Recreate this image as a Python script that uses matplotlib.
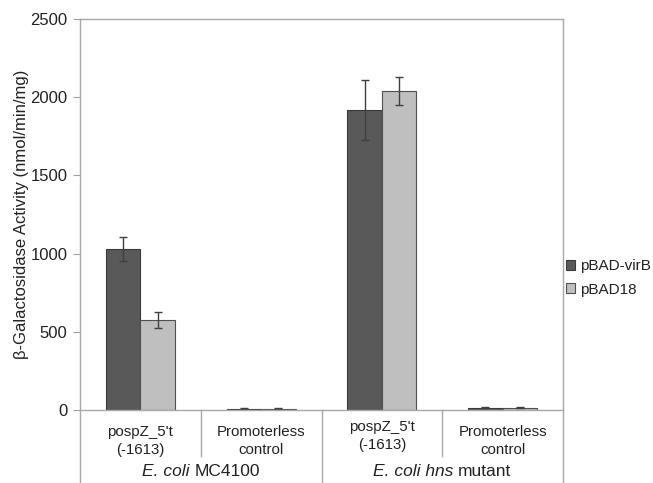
import matplotlib
matplotlib.use("Agg")
import matplotlib.pyplot as plt
import numpy as np

plt.rcParams['font.family'] = ['Liberation Sans', 'DejaVu Sans']

categories = ["pospZ_5't\n(-1613)", "Promoterless\ncontrol", "pospZ_5't\n(-1613)", "Promoterless\ncontrol"]
groups = [("E. coli ", "MC4100"), ("E. coli hns ", "mutant")]
series_names = ["pBAD-virB", "pBAD18"]
virB = [1030, 8, 1918, 14]
virB_err = [79, 2, 190, 4]
bad18 = [575, 8, 2040, 14]
bad18_err = [50, 2, 87, 4]
yticks = [0, 500, 1000, 1500, 2000, 2500]

W, H = 653, 483
fig = plt.figure(figsize=(W/100, H/100), dpi=100)
L, R, B, T = 80, 563, 410, 19
ax = fig.add_axes([L/W, (H-B)/H, (R-L)/W, (B-T)/H])

x = np.arange(len(categories))
bw = 0.2857
dark, light = '#595959', '#BFBFBF'
ekw = dict(ecolor='#404040', elinewidth=1.0, capsize=3.2, capthick=1.0)
ax.bar(x - bw/2, virB, bw, color=dark, edgecolor='#3a3a3a', linewidth=0.8,
       yerr=virB_err, error_kw=ekw, label=series_names[0], zorder=2)
ax.bar(x + bw/2, bad18, bw, color=light, edgecolor='#505050', linewidth=0.8,
       yerr=bad18_err, error_kw=ekw, label=series_names[1], zorder=2)

ax.set_xlim(-0.5, len(categories) - 0.5)
ax.set_ylim(0, 2500)
ax.set_yticks(yticks)
ax.tick_params(axis='y', length=5, color='#A0A0A0', labelsize=12, pad=4, labelcolor='#222222')
ax.set_xticks([])
for s in ax.spines.values():
    s.set_color('#A8A8A8')
    s.set_linewidth(1.0)

ax.set_ylabel("β-Galactosidase Activity (nmol/min/mg)", fontsize=12, color='#222222')
ax.yaxis.label.set_va('center')
ax.yaxis.set_label_coords(-(L-22)/(R-L), 0.5)

trans = fig.transFigure
def fx(px): return px / W
def fy(py): return (H - py) / H
def xpix(v):
    return L + (v + 0.5) * (R - L) / len(categories)

label_y = [441, 441, 436, 441]
for i, lab in enumerate(categories):
    fig.text(fx(xpix(i)), fy(label_y[i]), lab, ha='center', va='center',
             fontsize=10.8, color='#222222', linespacing=1.4)

for b in range(len(categories) + 1):
    xp = xpix(b - 0.5)
    bottom = 483 if b in (0, 2, 4) else 456
    fig.add_artist(plt.Line2D([fx(xp), fx(xp)], [fy(B), fy(bottom)], transform=trans,
                              color='#A8A8A8', linewidth=1.0))

fig.canvas.draw()
r = fig.canvas.get_renderer()
for gi, (it, nm) in enumerate(groups):
    cx = (xpix(2*gi) + xpix(2*gi + 1)) / 2
    t1 = fig.text(0, fy(472), it, fontsize=12.5, style='italic', color='#222222', va='center')
    t2 = fig.text(0, fy(472), nm, fontsize=12.5, color='#222222', va='center')
    w1 = t1.get_window_extent(r).width
    w2 = t2.get_window_extent(r).width
    left = cx - (w1 + w2) / 2
    t1.set_x(fx(left))
    t2.set_x(fx(left + w1))

leg = fig.legend(loc='center left', bbox_to_anchor=(566/W, fy(278)), frameon=False,
                 fontsize=11, handlelength=0.6, handleheight=0.6, handletextpad=0.3,
                 labelspacing=0.6, borderpad=0, borderaxespad=0)
for t in leg.get_texts():
    t.set_color('#222222')

fig.savefig("out.png", dpi=100, facecolor='white')
